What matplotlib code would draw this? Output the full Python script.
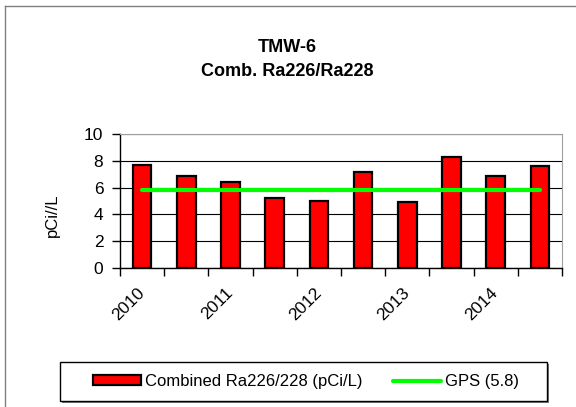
import matplotlib.pyplot as plt
from matplotlib.patches import Rectangle
from matplotlib.lines import Line2D

plt.rcParams['font.family'] = ['Liberation Sans', 'DejaVu Sans']

# data
years = ['2010', '', '2011', '', '2012', '', '2013', '', '2014', '']
ra_values = [7.7, 6.9, 6.4, 5.2, 5.0, 7.2, 4.9, 8.3, 6.9, 7.6]
gps_values = [5.8] * 10

W, H = 576, 407
fig = plt.figure(figsize=(W / 100, H / 100), dpi=100)
ax = fig.add_axes([120 / W, 1 - 268 / H, 442 / W, 134 / H])

x = [i + 0.5 for i in range(len(ra_values))]
bars = ax.bar(x, ra_values, width=0.42, color='red', edgecolor='black', linewidth=1.6,
              zorder=3)
line, = ax.plot(x, gps_values, color='#00ff00', lw=3, solid_capstyle='round', zorder=4)

ax.set_xlim(0, 10)
ax.set_ylim(0, 10)
ax.set_yticks(range(0, 11, 2))
ax.yaxis.grid(True, color='black', lw=0.8)
ax.set_axisbelow(True)
for s in ['top', 'right']:
    ax.spines[s].set_color('#a0a0a0')
for s in ['left', 'bottom']:
    ax.spines[s].set_color('black')
    ax.spines[s].set_linewidth(1.0)

ax.set_xticks(x)
ax.set_xticklabels(years, rotation=45, ha='right', va='center', rotation_mode='anchor',
                   fontsize=12.5)
ax.set_xticks(range(11), minor=True)
ax.tick_params(axis='x', which='major', length=0, pad=16)
ax.tick_params(axis='x', which='minor', length=6, width=1, color='black')
ax.tick_params(axis='y', length=6, width=1, labelsize=12.5, pad=6)

fig.text(287 / W, 1 - 47 / H, 'TMW-6', ha='center', va='center', fontsize=13, fontweight='bold')
fig.text(287 / W, 1 - 71 / H, 'Comb. Ra226/Ra228', ha='center', va='center', fontsize=13, fontweight='bold')
fig.text(52 / W, 1 - 215 / H, 'pCi//L', rotation=90, ha='center', va='center', fontsize=12)

# legend box with shadow
fig.patches.append(Rectangle((62 / W, 1 - 403 / H), 487 / W, 39 / H, transform=fig.transFigure,
                             facecolor='#808080', edgecolor='none', zorder=1))
fig.patches.append(Rectangle((60 / W, 1 - 401 / H), 487 / W, 39 / H, transform=fig.transFigure,
                             facecolor='white', edgecolor='black', lw=1, zorder=2))
fig.legend([bars, line], ['Combined Ra226/228 (pCi/L)', 'GPS (5.8)'], loc='center',
           bbox_to_anchor=(306 / W, 1 - 381.5 / H), ncol=2, frameon=False,
           fontsize=12, handlelength=2.9, handleheight=0.5, handletextpad=0.25, columnspacing=1.8)

# outer chart border (left and top edges visible)
fig.add_artist(Line2D([5 / W, 5 / W], [0, 1 - 6 / H], color='#808080', lw=1))
fig.add_artist(Line2D([5 / W, 1], [1 - 6 / H, 1 - 6 / H], color='#808080', lw=1))

fig.savefig('out.png', dpi=100)
